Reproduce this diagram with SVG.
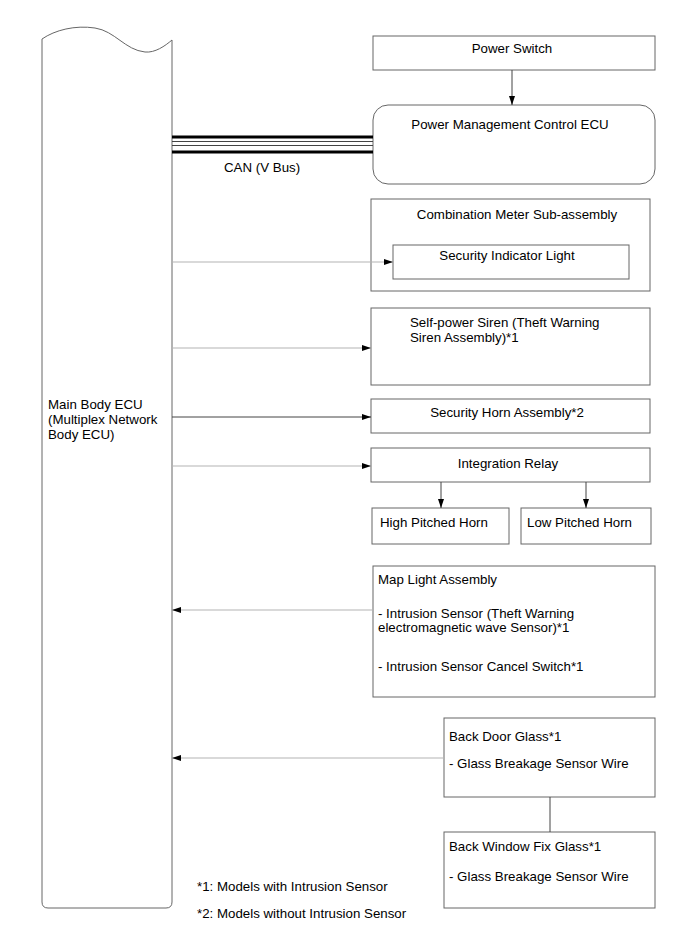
<svg xmlns="http://www.w3.org/2000/svg" width="689" height="951" viewBox="0 0 689 951">
<style>
.box{fill:#fff;stroke:#666;stroke-width:1}
.t{font-family:"Liberation Sans",Arial,sans-serif;font-size:13.3px;fill:#000}
.c{text-anchor:middle}
.gl{stroke:#b4b4b4;stroke-width:1.2;fill:none}
.dl{stroke:#444;stroke-width:1;fill:none}
</style>
<defs>
<marker id="ah" markerWidth="10" markerHeight="8" refX="9" refY="4" orient="auto" markerUnits="userSpaceOnUse">
<path d="M0,1 L9,4 L0,7 z" fill="#000"/>
</marker>
</defs>
<g id="main-body-ecu">
<path class="box" d="M42,39 C55,30 75,25 95,28 C115,31 125,50 145,52 C155,53 165,46 172,40 L172,902 Q172,908 166,908 L48,908 Q42,908 42,902 Z"/>
<text class="t" x="48" y="409">Main Body ECU</text>
<text class="t" x="48" y="424">(Multiplex Network</text>
<text class="t" x="48" y="439">Body ECU)</text>
</g>
<g id="power-switch">
<rect class="box" x="373" y="36" width="282" height="34"/>
<text class="t c" x="512" y="53">Power Switch</text>
</g>
<g id="power-management-ecu">
<rect class="box" x="373" y="105" width="282" height="79" rx="15"/>
<text class="t c" x="510" y="129">Power Management Control ECU</text>
</g>
<g id="combination-meter">
<rect class="box" x="371" y="199" width="279" height="92"/>
<text class="t c" x="517" y="219">Combination Meter Sub-assembly</text>
</g>
<g id="security-indicator-light">
<rect class="box" x="393" y="245" width="236" height="34"/>
<text class="t c" x="507" y="260">Security Indicator Light</text>
</g>
<g id="self-power-siren">
<rect class="box" x="371" y="308" width="279" height="77"/>
<text class="t" x="410" y="327">Self-power Siren (Theft Warning</text>
<text class="t" x="410" y="342">Siren Assembly)*1</text>
</g>
<g id="security-horn">
<rect class="box" x="371" y="399" width="279" height="34"/>
<text class="t c" x="507" y="417">Security Horn Assembly*2</text>
</g>
<g id="integration-relay">
<rect class="box" x="371" y="448" width="279" height="34"/>
<text class="t c" x="508" y="468">Integration Relay</text>
</g>
<g id="high-pitched-horn">
<rect class="box" x="372" y="508" width="137" height="36"/>
<text class="t" x="380" y="527">High Pitched Horn</text>
</g>
<g id="low-pitched-horn">
<rect class="box" x="521" y="508" width="130" height="36"/>
<text class="t" x="527" y="527">Low Pitched Horn</text>
</g>
<g id="map-light-assembly">
<rect class="box" x="373" y="566" width="282" height="131"/>
<text class="t" x="378" y="584">Map Light Assembly</text>
<text class="t" x="378" y="618">- Intrusion Sensor (Theft Warning</text>
<text class="t" x="378" y="632">electromagnetic wave Sensor)*1</text>
<text class="t" x="378" y="671">- Intrusion Sensor Cancel Switch*1</text>
</g>
<g id="back-door-glass">
<rect class="box" x="444" y="718" width="211" height="79"/>
<text class="t" x="449" y="741">Back Door Glass*1</text>
<text class="t" x="449" y="768">- Glass Breakage Sensor Wire</text>
</g>
<g id="back-window-fix-glass">
<rect class="box" x="444" y="832" width="211" height="76"/>
<text class="t" x="449" y="851">Back Window Fix Glass*1</text>
<text class="t" x="449" y="881">- Glass Breakage Sensor Wire</text>
</g>
<g id="notes">
<text class="t" x="197" y="891">*1: Models with Intrusion Sensor</text>
<text class="t" x="197" y="918">*2: Models without Intrusion Sensor</text>
</g>
<g id="connectors">
<line x1="172" y1="137" x2="373" y2="137" stroke="#000" stroke-width="3"/>
<line x1="172" y1="141.5" x2="373" y2="141.5" stroke="#444" stroke-width="1"/>
<line x1="172" y1="145.5" x2="373" y2="145.5" stroke="#444" stroke-width="1"/>
<line x1="172" y1="152" x2="373" y2="152" stroke="#000" stroke-width="3"/>
<text class="t" x="224" y="172">CAN (V Bus)</text>
<line class="dl" x1="512" y1="70" x2="512" y2="105" marker-end="url(#ah)"/>
<line class="gl" x1="172" y1="262" x2="393" y2="262" marker-end="url(#ah)"/>
<line class="gl" x1="172" y1="348" x2="371" y2="348" marker-end="url(#ah)"/>
<line class="dl" x1="172" y1="417" x2="371" y2="417" marker-end="url(#ah)"/>
<line class="gl" x1="172" y1="466" x2="371" y2="466" marker-end="url(#ah)"/>
<line class="dl" x1="441" y1="482" x2="441" y2="508" marker-end="url(#ah)"/>
<line class="dl" x1="586" y1="482" x2="586" y2="508" marker-end="url(#ah)"/>
<line class="gl" x1="373" y1="610" x2="172" y2="610" marker-end="url(#ah)"/>
<line class="gl" x1="444" y1="758" x2="172" y2="758" marker-end="url(#ah)"/>
<line class="dl" x1="550" y1="797" x2="550" y2="832"/>
</g>
</svg>
